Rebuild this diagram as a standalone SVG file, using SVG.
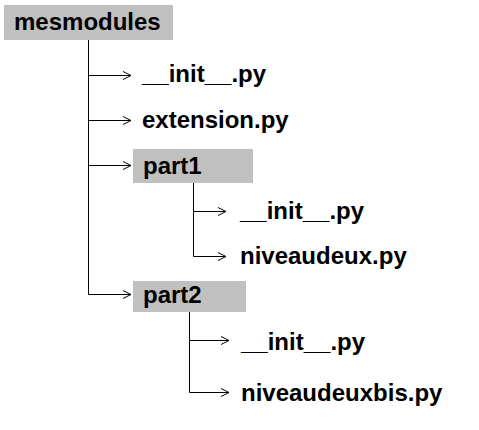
<svg xmlns="http://www.w3.org/2000/svg" width="479" height="430" viewBox="0 0 479 430">
<style>
.box{fill:#c0c0c0;stroke:none}
.t{font-family:"Liberation Sans",Arial,sans-serif;font-weight:bold;font-size:24px;fill:#000}
.c{fill:none;stroke:#000;stroke-width:1}
</style>
<defs>
<marker id="ah" markerWidth="10" markerHeight="10" refX="9" refY="5" orient="auto" markerUnits="userSpaceOnUse">
<path d="M1,1 L9,5 L1,9" fill="none" stroke="#000" stroke-width="1"/>
</marker>
</defs>
<rect width="479" height="430" fill="#fff"/>
<g id="connectors">
<path class="c" d="M88.5,40 V294.5"/>
<path class="c" d="M88.5,75.5 H131" marker-end="url(#ah)"/>
<path class="c" d="M88.5,120.5 H131" marker-end="url(#ah)"/>
<path class="c" d="M88.5,165.5 H131" marker-end="url(#ah)"/>
<path class="c" d="M88.5,294.5 H131" marker-end="url(#ah)"/>
<path class="c" d="M193.5,183 V256.5"/>
<path class="c" d="M193.5,211.5 H226" marker-end="url(#ah)"/>
<path class="c" d="M193.5,256.5 H226" marker-end="url(#ah)"/>
<path class="c" d="M189.5,312 V392.5"/>
<path class="c" d="M189.5,340.5 H229" marker-end="url(#ah)"/>
<path class="c" d="M189.5,392.5 H229" marker-end="url(#ah)"/>
</g>
<g id="mesmodules"><rect class="box" x="4" y="5" width="169" height="35"/><text class="t" x="14" y="30">mesmodules</text></g>
<g id="init1"><text class="t" x="142" y="82">__init__.py</text></g>
<g id="extension"><text class="t" x="142" y="128">extension.py</text></g>
<g id="part1"><rect class="box" x="133" y="149" width="120" height="34"/><text class="t" x="143" y="174">part1</text></g>
<g id="init2"><text class="t" x="240" y="219">__init__.py</text></g>
<g id="niveaudeux"><text class="t" x="240" y="264">niveaudeux.py</text></g>
<g id="part2"><rect class="box" x="133" y="281" width="113" height="31"/><text class="t" x="143" y="303">part2</text></g>
<g id="init3"><text class="t" x="241" y="350">__init__.py</text></g>
<g id="niveaudeuxbis"><text class="t" x="241" y="401">niveaudeuxbis.py</text></g>
</svg>
